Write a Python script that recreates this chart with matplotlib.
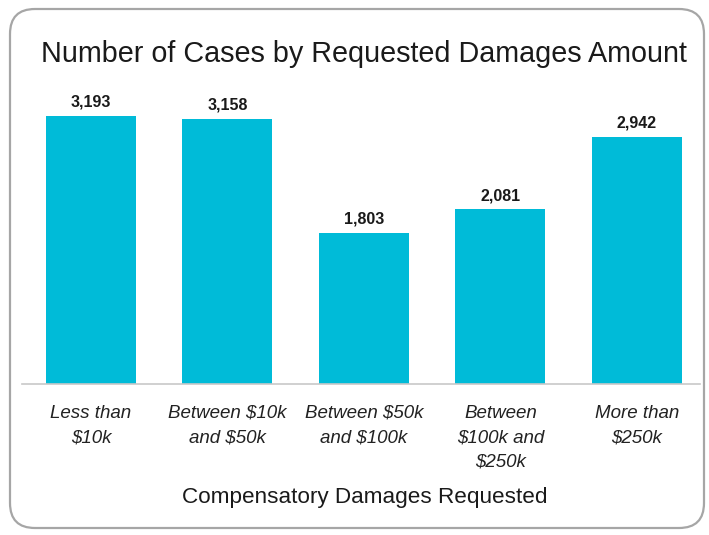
import matplotlib
matplotlib.use("Agg")
import matplotlib.pyplot as plt
from matplotlib.patches import FancyBboxPatch

plt.rcParams['font.family'] = ['Liberation Sans', 'DejaVu Sans']

categories = ["Less than\n$10k", "Between $10k\nand $50k", "Between $50k\nand $100k",
              "Between\n$100k and\n$250k", "More than\n$250k"]
cases = [3193, 3158, 1803, 2081, 2942]
value_labels = ["3,193", "3,158", "1,803", "2,081", "2,942"]

bar_color = "#00bbd8"

fig = plt.figure(figsize=(7.09, 5.35), dpi=100)

# rounded frame around the whole chart (inches)
frame = FancyBboxPatch((0.10, 0.07), 6.94, 5.19,
                       boxstyle="round,pad=0,rounding_size=0.25",
                       transform=fig.dpi_scale_trans,
                       facecolor="none", edgecolor="#a6a6a6", linewidth=1.6,
                       zorder=-1)
fig.patches.append(frame)

ax = fig.add_axes([22/709, (535-384)/535, 678/709, 294/535])
ax.patch.set_alpha(0)

x = list(range(len(categories)))
ax.bar(x, cases, width=0.66, color=bar_color, zorder=2)

for xi, v, lab in zip(x, cases, value_labels):
    ax.annotate(lab, (xi, v), xytext=(0, 4.5), textcoords="offset points",
                ha="center", va="bottom", fontsize=11.5, fontweight="bold",
                color="#1a1a1a")

ax.set_xlim(-0.505, 4.462)
ax.set_ylim(0, 3504)
ax.set_xticks(x)
ax.set_xticklabels(categories, fontsize=13.5, style="italic", color="#222222",
                   linespacing=1.58)
ax.tick_params(axis="x", length=0, pad=15)
ax.set_yticks([])
for s in ["top", "right", "left"]:
    ax.spines[s].set_visible(False)
ax.spines["bottom"].set_color("#c8c8c8")
ax.spines["bottom"].set_linewidth(1.2)

fig.text(364/709, 1 - 54/535, "Number of Cases by Requested Damages Amount",
         ha="center", va="center", fontsize=20.7, color="#1a1a1a")
fig.text(365/709, 1 - 498/535, "Compensatory Damages Requested",
         ha="center", va="center", fontsize=16.2, color="#1a1a1a")

fig.savefig("out.png", dpi=100)
